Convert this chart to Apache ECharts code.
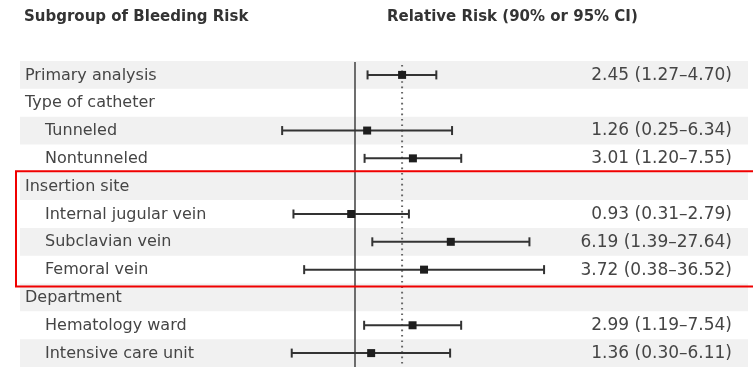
<!DOCTYPE html>
<html>
<head>
<meta charset="utf-8">
<script src="https://cdn.jsdelivr.net/npm/echarts/dist/echarts.min.js"></script>
<style>
  html, body { margin: 0; padding: 0; background: #fff; }
  #chart { width: 753px; height: 367px; }
</style>
</head>
<body>
<div id="chart"></div>
<script>
// Subgroup rows of the forest plot (top to bottom)
const rowLabels = [
  'Primary analysis', 'Type of catheter', 'Tunneled', 'Nontunneled',
  'Insertion site', 'Internal jugular vein', 'Subclavian vein', 'Femoral vein',
  'Department', 'Hematology ward', 'Intensive care unit'
];
const rowIndent = [0, 0, 1, 1, 0, 1, 1, 1, 0, 1, 1];
// Relative risk with lower / upper confidence limits (null = group heading)
const estimate = [2.45, null, 1.26, 3.01, null, 0.93, 6.19, 3.72, null, 2.99, 1.36];
const lower    = [1.27, null, 0.25, 1.20, null, 0.31, 1.39, 0.38, null, 1.19, 0.30];
const upper    = [4.70, null, 6.34, 7.55, null, 2.79, 27.64, 36.52, null, 7.54, 6.11];
// Boxed group: first and last row index
const highlightRows = [4, 7];
// Reference lines: no effect and overall estimate
const refLine = 1;
const overallLine = 2.45;

const FONT = '"DejaVu Sans", "Open Sans", sans-serif';
const TEXT = '#454545';
const INK = '#333';

const fmt = v => v.toFixed(2);
const rows = rowLabels.map((_, i) => [i, estimate[i], lower[i], upper[i]]);

const chart = echarts.init(document.getElementById('chart'), null, { renderer: 'canvas' });

function bandHalf(api) {
  return api.size([0, 1])[1] / 2;
}

chart.setOption({
  animation: false,
  title: [
    { text: 'Subgroup of Bleeding Risk', left: 19, top: 5,
      textStyle: { fontFamily: FONT, fontSize: 15, fontWeight: 'bold', color: '#333' } },
    { text: 'Relative Risk (90% or 95% CI)', left: 382, top: 5,
      textStyle: { fontFamily: FONT, fontSize: 15, fontWeight: 'bold', color: '#333' } }
  ],
  grid: { left: 234, right: 156, top: 61, height: 307, containLabel: false },
  xAxis: {
    type: 'log', logBase: 10, min: 0.1, max: 100,
    show: false
  },
  yAxis: {
    type: 'category', data: rowLabels, inverse: true, show: false
  },
  series: [
    // Row shading and row text
    {
      type: 'custom', z: 0, silent: true,
      data: rows,
      renderItem(params, api) {
        const i = api.value(0);
        const y = api.coord([refLine, i])[1];
        const h = bandHalf(api);
        const W = api.getWidth();
        const children = [];
        if (i % 2 === 0) {
          children.push({
            type: 'rect',
            shape: { x: 20, y: y - h, width: W - 25, height: 2 * h },
            style: { fill: '#f1f1f1' }
          });
        }
        children.push({
          type: 'text',
          style: {
            x: rowIndent[i] ? 45 : 25, y: y + 0.5,
            text: rowLabels[i], fill: TEXT,
            font: '16px ' + FONT, verticalAlign: 'middle', align: 'left'
          }
        });
        if (estimate[i] != null) {
          children.push({
            type: 'text',
            style: {
              x: 732, y: y + 0.5,
              text: fmt(estimate[i]) + ' (' + fmt(lower[i]) + '\u2013' + fmt(upper[i]) + ')',
              fill: TEXT, font: '17px ' + FONT, verticalAlign: 'middle', align: 'right'
            }
          });
        }
        return { type: 'group', children };
      }
    },
    // Reference lines
    {
      type: 'custom', z: 1, silent: true,
      data: [[refLine, overallLine]],
      renderItem(params, api) {
        const top = params.coordSys.y;
        const bottom = params.coordSys.y + params.coordSys.height;
        const x1 = api.coord([api.value(0), 0])[0];
        const x2 = api.coord([api.value(1), 0])[0];
        return {
          type: 'group',
          children: [
            { type: 'line', shape: { x1: x1, y1: top + 1, x2: x1, y2: bottom },
              style: { stroke: '#555', lineWidth: 1.7 } },
            { type: 'line', shape: { x1: x2, y1: top + 4, x2: x2, y2: bottom },
              style: { stroke: '#666', lineWidth: 2, lineDash: [1.6, 3.8] } }
          ]
        };
      }
    },
    // Confidence intervals and point estimates
    {
      type: 'custom', z: 2, silent: true,
      data: rows.filter(r => r[1] != null),
      renderItem(params, api) {
        const i = api.value(0);
        const pe = api.coord([api.value(1), i]);
        const lo = api.coord([api.value(2), i]);
        const hi = api.coord([api.value(3), i]);
        const y = pe[1];
        const cap = 4.5, sq = 8;
        const st = { stroke: INK, lineWidth: 2 };
        return {
          type: 'group',
          children: [
            { type: 'line', shape: { x1: lo[0], y1: y, x2: hi[0], y2: y }, style: st },
            { type: 'line', shape: { x1: lo[0], y1: y - cap, x2: lo[0], y2: y + cap }, style: st },
            { type: 'line', shape: { x1: hi[0], y1: y - cap, x2: hi[0], y2: y + cap }, style: st },
            { type: 'rect', shape: { x: pe[0] - sq / 2, y: y - sq / 2, width: sq, height: sq },
              style: { fill: '#1e1e1e' } }
          ]
        };
      }
    },
    // Box around the highlighted group
    {
      type: 'custom', z: 3, silent: true,
      data: [highlightRows],
      renderItem(params, api) {
        const h = bandHalf(api);
        const yTop = api.coord([refLine, api.value(0)])[1] - h - 1;
        const yBot = api.coord([refLine, api.value(1)])[1] + h + 3;
        return {
          type: 'rect',
          shape: { x: 16, y: yTop, width: api.getWidth(), height: yBot - yTop },
          style: { fill: null, stroke: '#f00000', lineWidth: 2 }
        };
      }
    }
  ]
});
</script>
</body>
</html>
